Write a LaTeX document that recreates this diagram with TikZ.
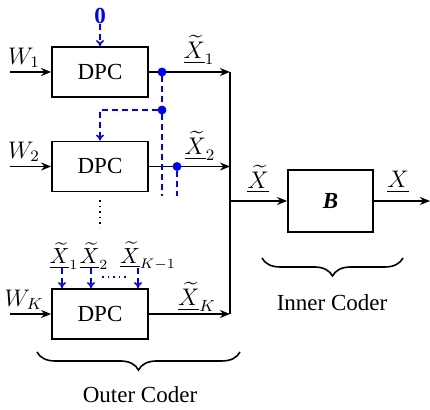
\documentclass[tikz,border=0pt]{standalone}
\usepackage{amsmath}
\usepackage{fontspec}
\setmainfont{Liberation Serif}
\usetikzlibrary{arrows.meta,decorations.pathreplacing}
\begin{document}
\begin{tikzpicture}[
  x=0.5pt, y=0.5pt,
  font=\fontsize{11.5}{13}\selectfont,
  dpc/.style={rectangle, draw=black, line width=0.9pt,
    minimum width=48pt, minimum height=25pt, inner sep=0pt},
  inner/.style={rectangle, draw=black, line width=0.9pt,
    minimum width=42.5pt, minimum height=31pt, inner sep=0pt},
  arrow/.style={-{Stealth[length=5pt,width=4pt]}, line width=0.8pt},
  fb/.style={blue, dashed, line width=0.8pt, dash pattern=on 3pt off 2pt},
  fbarrow/.style={fb, -{To[length=3pt,width=4pt]}},
  junc/.style={circle, fill=blue, draw=blue, inner sep=0pt, minimum size=4pt},
  lbl/.style={inner sep=0pt},
  small/.style={inner sep=0pt, font=\fontsize{10.5}{12}\selectfont},
  brace/.style={decorate, decoration={brace, amplitude=9pt}, line width=0.8pt},
]
\useasboundingbox (0,0) rectangle (430,410);

% outer coder boxes
\node[dpc] (b1) at (100,338) {DPC};
\node[dpc] (b2) at (100,243.5) {DPC};
\node[dpc] (bK) at (100,96) {DPC};

% inner coder
\node[inner] (bB) at (330.5,209) {\textbf{\textit{B}}};

\coordinate (bus) at (230,0);
\coordinate (w1) at (10,338);
\coordinate (w2) at (10,243.5);
\coordinate (wK) at (10,96);
\coordinate (xout) at (430,209);

% inputs
\draw[arrow] (w1) -- (b1.west);
\draw[arrow] (w2) -- (b2.west);
\draw[arrow] (wK) -- (bK.west);
\node[lbl] (lw1) at (24,352) {$W_{1}$};
\node[lbl] (lw2) at (24,258) {$W_{2}$};
\node[lbl] (lwK) at (24,110) {$W_{K}$};

% outputs into the bus
\draw[arrow] (b1.east) -- (b1.east -| bus);
\draw[arrow] (b2.east) -- (b2.east -| bus);
\draw[arrow] (bK.east) -- (bK.east -| bus);
\draw[line width=0.8pt] (b1.east -| bus) -- (bK.east -| bus);
\node[lbl] (lx1) at (199,360) {$\underline{\widetilde{X}}_{1}$};
\node[lbl] (lx2) at (200,264) {$\underline{\widetilde{X}}_{2}$};
\node[lbl] (lxK) at (197,113) {$\underline{\widetilde{X}}_{K}$};

% bus to inner coder
\draw[arrow] (bB.west -| bus) -- (bB.west);
\draw[arrow] (bB.east) -- (xout);
\node[lbl] (lxt) at (258,231) {$\underline{\widetilde{X}}$};
\node[lbl] (lx) at (398,228) {$\underline{X}$};

% feedback
\node[lbl, blue] (zero) at (100,394) {$\mathbf{0}$};
\draw[fbarrow] (zero) -- (b1.north);
\node[junc] (d1) at (162,338) {};
\node[junc] (d2) at (162,300) {};
\node[junc] (d3) at (177,243.5) {};
\coordinate (e1) at (162,214);
\coordinate (e3) at (177,214);
\draw[fb] (d1) -- (d2) -- (e1);
\draw[fbarrow] (d2) -| (b2.north);
\draw[fb] (d3) -- (e3);

% vertical dots between blocks
\coordinate (v1) at (100,210);
\coordinate (v2) at (100,182);
\draw[dotted, line width=0.8pt] (v1) -- (v2);

% inputs of the last block
\node[small] (lk1) at (64,154) {$\underline{\widetilde{X}}_{1}$};
\node[small] (lk2) at (94,154) {$\underline{\widetilde{X}}_{2}$};
\node[small] (lkK) at (148,154) {$\underline{\widetilde{X}}_{K-1}$};
\coordinate (k1) at (62,142);
\coordinate (k2) at (91,142);
\coordinate (kK) at (138,142);
\draw[fbarrow] (k1) -- (k1 |- bK.north);
\draw[fbarrow] (k2) -- (k2 |- bK.north);
\draw[fbarrow] (kK) -- (kK |- bK.north);
\coordinate (h1) at (102,133);
\coordinate (h2) at (127,133);
\draw[blue, dotted, line width=0.8pt] (h1) -- (h2);

% braces
\coordinate (ob1) at (240,58);
\coordinate (ob2) at (37,58);
\draw[brace] (ob1) -- (ob2);
\node (outer) at (140,15) {Outer Coder};
\coordinate (ib1) at (403,152);
\coordinate (ib2) at (262,152);
\draw[brace] (ib1) -- (ib2);
\node (innerlbl) at (332,107) {Inner Coder};

\end{tikzpicture}
\end{document}
